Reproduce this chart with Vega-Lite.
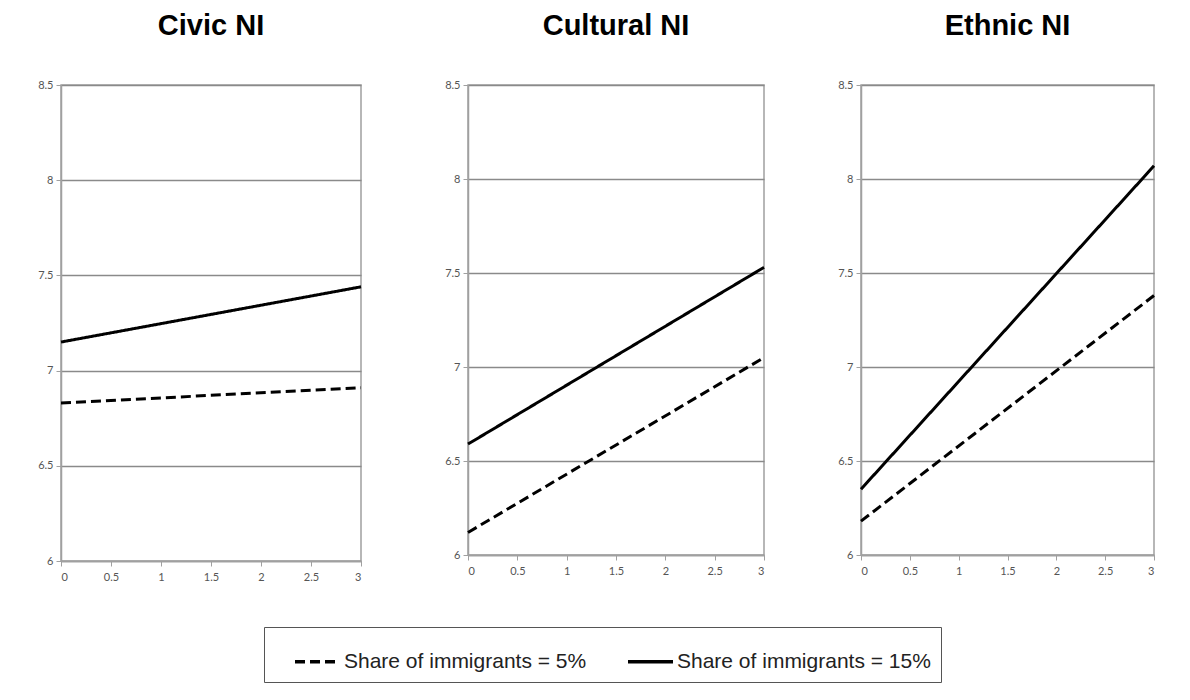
{
  "$schema": "https://vega.github.io/schema/vega-lite/v6.json",
  "padding": {"left": 36, "top": 11, "right": 5, "bottom": 5},
  "background": "white",
  "data": {
    "values": [
      {"panel": "Civic NI", "x": 0, "y": 6.83, "group": "Share of immigrants = 5%"},
      {"panel": "Civic NI", "x": 3, "y": 6.91, "group": "Share of immigrants = 5%"},
      {"panel": "Civic NI", "x": 0, "y": 7.15, "group": "Share of immigrants = 15%"},
      {"panel": "Civic NI", "x": 3, "y": 7.44, "group": "Share of immigrants = 15%"},
      {"panel": "Cultural NI", "x": 0, "y": 6.12, "group": "Share of immigrants = 5%"},
      {"panel": "Cultural NI", "x": 3, "y": 7.05, "group": "Share of immigrants = 5%"},
      {"panel": "Cultural NI", "x": 0, "y": 6.59, "group": "Share of immigrants = 15%"},
      {"panel": "Cultural NI", "x": 3, "y": 7.53, "group": "Share of immigrants = 15%"},
      {"panel": "Ethnic NI", "x": 0, "y": 6.18, "group": "Share of immigrants = 5%"},
      {"panel": "Ethnic NI", "x": 3, "y": 7.38, "group": "Share of immigrants = 5%"},
      {"panel": "Ethnic NI", "x": 0, "y": 6.35, "group": "Share of immigrants = 15%"},
      {"panel": "Ethnic NI", "x": 3, "y": 8.07, "group": "Share of immigrants = 15%"}
    ]
  },
  "spacing": 75,
  "hconcat": [
    {
      "title": {"text": "Civic NI"},
      "width": 300,
      "height": 476,
      "transform": [{"filter": "datum.panel === 'Civic NI'"}],
      "mark": {"type": "line", "color": "black", "strokeWidth": 3},
      "encoding": {
        "x": {"field": "x", "type": "quantitative", "scale": {"domain": [0, 3], "nice": false}, "axis": {"values": [0, 0.5, 1, 1.5, 2, 2.5, 3], "format": "~g", "title": null}},
        "y": {"field": "y", "type": "quantitative", "scale": {"domain": [6, 8.5], "nice": false, "zero": false}, "axis": {"values": [6, 6.5, 7, 7.5, 8, 8.5], "format": "~g", "title": null}},
        "strokeDash": {"field": "group", "type": "nominal", "scale": {"domain": ["Share of immigrants = 5%", "Share of immigrants = 15%"], "range": [[10, 5], [1, 0]]}, "title": null}
      }
    },
    {
      "spacing": 65,
      "hconcat": [
        {
          "title": {"text": "Cultural NI"},
          "width": 296,
          "height": 470,
          "transform": [{"filter": "datum.panel === 'Cultural NI'"}],
          "mark": {"type": "line", "color": "black", "strokeWidth": 3},
          "encoding": {
            "x": {"field": "x", "type": "quantitative", "scale": {"domain": [0, 3], "nice": false}, "axis": {"values": [0, 0.5, 1, 1.5, 2, 2.5, 3], "format": "~g", "title": null}},
            "y": {"field": "y", "type": "quantitative", "scale": {"domain": [6, 8.5], "nice": false, "zero": false}, "axis": {"values": [6, 6.5, 7, 7.5, 8, 8.5], "format": "~g", "title": null}},
            "strokeDash": {"field": "group", "type": "nominal", "scale": {"domain": ["Share of immigrants = 5%", "Share of immigrants = 15%"], "range": [[10, 5], [1, 0]]}, "title": null}
          }
        },
        {
          "title": {"text": "Ethnic NI"},
          "width": 293,
          "height": 470,
          "transform": [{"filter": "datum.panel === 'Ethnic NI'"}],
          "mark": {"type": "line", "color": "black", "strokeWidth": 3},
          "encoding": {
            "x": {"field": "x", "type": "quantitative", "scale": {"domain": [0, 3], "nice": false}, "axis": {"values": [0, 0.5, 1, 1.5, 2, 2.5, 3], "format": "~g", "title": null}},
            "y": {"field": "y", "type": "quantitative", "scale": {"domain": [6, 8.5], "nice": false, "zero": false}, "axis": {"values": [6, 6.5, 7, 7.5, 8, 8.5], "format": "~g", "title": null}},
            "strokeDash": {"field": "group", "type": "nominal", "scale": {"domain": ["Share of immigrants = 5%", "Share of immigrants = 15%"], "range": [[10, 5], [1, 0]]}, "title": null}
          }
        }
      ]
    }
  ],
  "config": {
    "font": "Liberation Sans",
    "view": {"stroke": "#a0a0a0", "strokeWidth": 1.5},
    "title": {"fontSize": 29, "fontWeight": "bold", "font": "Liberation Sans", "color": "black", "offset": 38, "anchor": "middle"},
    "axis": {
      "labelFont": "Lato",
      "labelFontSize": 11,
      "labelColor": "#555",
      "domainColor": "#a0a0a0",
      "domainWidth": 1.5,
      "tickColor": "#a0a0a0",
      "tickSize": 5,
      "labelPadding": 3
    },
    "axisX": {"grid": false, "labelPadding": 5},
    "axisY": {"grid": true, "gridColor": "#8a8a8a", "gridWidth": 1.5},
    "legend": {
      "orient": "none",
      "legendX": 203,
      "legendY": 542,
      "direction": "horizontal",
      "symbolType": "stroke",
      "symbolSize": 2025,
      "symbolStrokeWidth": 3.5,
      "symbolStrokeColor": "black",
      "symbolOffset": 19,
      "labelFontSize": 21,
      "labelFont": "Liberation Sans",
      "labelColor": "#222",
      "labelLimit": 400,
      "labelOffset": 2,
      "columnPadding": 20,
      "padding": 10,
      "strokeColor": "#555",
      "fillColor": "white"
    }
  }
}
